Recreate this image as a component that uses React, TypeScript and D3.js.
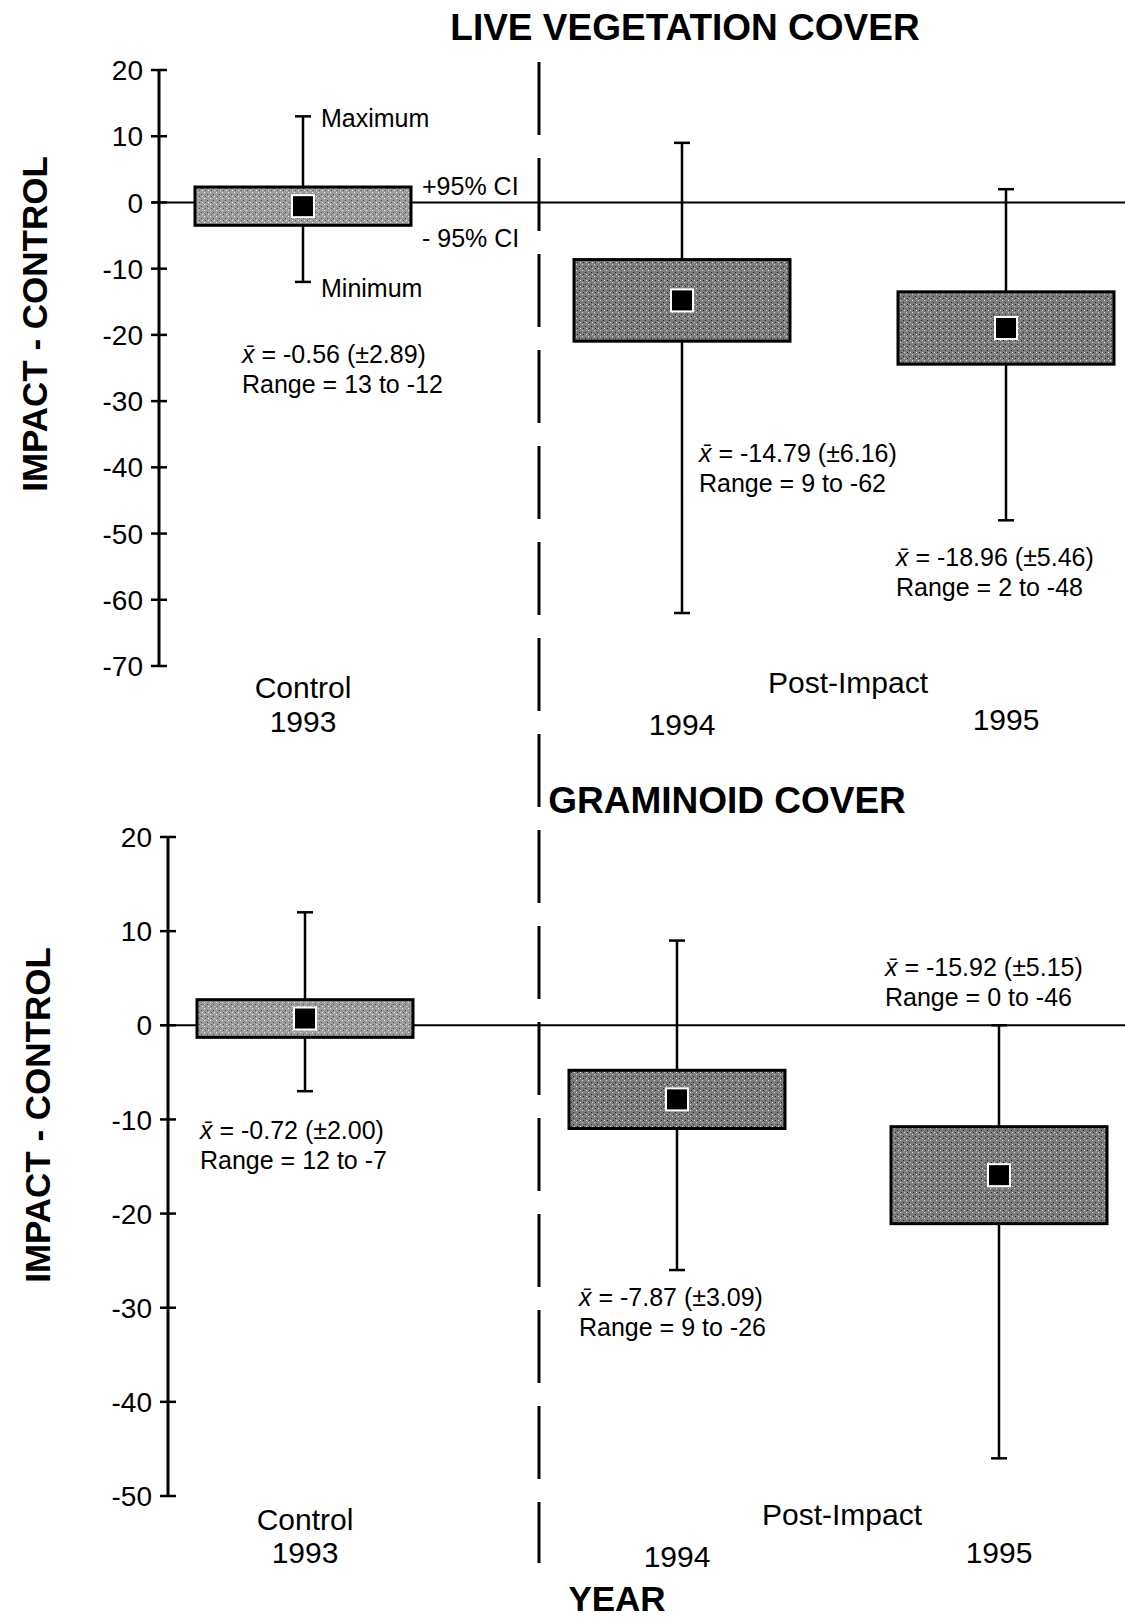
import React from "react";
import * as d3 from "d3";

// values
const categories = ["1993", "1994", "1995"];

const liveMean = [-0.56, -14.79, -18.96];
const liveCI = [2.89, 6.16, 5.46];
const liveMax = [13, 9, 2];
const liveMin = [-12, -62, -48];
const liveMeanText = ["-0.56", "-14.79", "-18.96"];
const liveTicks = [20, 10, 0, -10, -20, -30, -40, -50, -60, -70];

// plotted control mean sits above zero although the printed label says -0.72
const gramMean = [0.72, -7.87, -15.92];
const gramCI = [2.0, 3.09, 5.15];
const gramMax = [12, 9, 0];
const gramMin = [-7, -26, -46];
const gramMeanText = ["-0.72", "-7.87", "-15.92"];
const gramTicks = [20, 10, 0, -10, -20, -30, -40, -50];

const W = 1125;
const H = 1621;
const FONT = "'Liberation Sans', Arial, Helvetica, sans-serif";
const BOX_W = 216;
const CAP_W = 16;

type PanelProps = {
  title: string;
  titleX: number;
  titleY: number;
  axisX: number;
  y: d3.ScaleLinear<number, number>;
  x: d3.ScaleOrdinal<string, number>;
  ticks: number[];
  mean: number[];
  ci: number[];
  max: number[];
  min: number[];
  meanText: string[];
  labelPos: [number, number][];
  yTitleX: number;
  yTitleY: number;
  catY: [number, number];
  postY: number;
  yearY: number[];
  legend?: boolean;
};

const Panel = (p: PanelProps) => {
  const [d0, d1] = p.y.domain();
  return (
    <g>
      <text x={p.titleX} y={p.titleY} textAnchor="middle" fontFamily={FONT}
        fontWeight="bold" fontSize={37}>{p.title}</text>

      {/* y axis */}
      <line x1={p.axisX} x2={p.axisX} y1={p.y(d0)} y2={p.y(d1)} stroke="#000" strokeWidth={3} />
      {p.ticks.map((t) => (
        <g key={t}>
          <line x1={p.axisX - 8} x2={p.axisX + 8} y1={p.y(t)} y2={p.y(t)} stroke="#000" strokeWidth={2.5} />
          <text x={p.axisX - 16} y={p.y(t)} dy="0.36em" textAnchor="end" fontFamily={FONT}
            fontSize={28}>{t}</text>
        </g>
      ))}
      <text transform={`translate(${p.yTitleX},${p.yTitleY}) rotate(-90)`} textAnchor="middle"
        fontFamily={FONT} fontWeight="bold" fontSize={35}>IMPACT - CONTROL</text>

      {/* zero line */}
      <line x1={p.axisX - 8} x2={W} y1={p.y(0)} y2={p.y(0)} stroke="#000" strokeWidth={2} />

      {categories.map((c, i) => {
        const cx = p.x(c);
        const top = p.y(p.mean[i] + p.ci[i]);
        const bot = p.y(p.mean[i] - p.ci[i]);
        const [lx, ly] = p.labelPos[i];
        return (
          <g key={c}>
            <line x1={cx} x2={cx} y1={p.y(p.max[i])} y2={p.y(p.min[i])} stroke="#000" strokeWidth={2.5} />
            <line x1={cx - CAP_W / 2} x2={cx + CAP_W / 2} y1={p.y(p.max[i])} y2={p.y(p.max[i])} stroke="#000" strokeWidth={2.5} />
            <line x1={cx - CAP_W / 2} x2={cx + CAP_W / 2} y1={p.y(p.min[i])} y2={p.y(p.min[i])} stroke="#000" strokeWidth={2.5} />
            <rect x={cx - BOX_W / 2} y={top} width={BOX_W} height={bot - top}
              fill={i === 0 ? "url(#stipLight)" : "url(#stipDark)"} stroke="#000" strokeWidth={3} />
            <rect x={cx - 11} y={p.y(p.mean[i]) - 11} width={22} height={22} fill="#000"
              stroke="#fff" strokeWidth={2} />
            <text x={lx} y={ly} fontFamily={FONT} fontSize={25}>
              <tspan fontStyle="italic">x̄</tspan>
              {` = ${p.meanText[i]} (±${p.ci[i].toFixed(2)})`}
            </text>
            <text x={lx} y={ly + 30} fontFamily={FONT} fontSize={25}>
              {`Range = ${p.max[i]} to ${p.min[i]}`}
            </text>
          </g>
        );
      })}

      {p.legend && (
        <g fontFamily={FONT} fontSize={25}>
          <text x={p.x(categories[0]) + 18} y={p.y(p.max[0]) + 11}>Maximum</text>
          <text x={p.x(categories[0]) + 18} y={p.y(p.min[0]) + 15}>Minimum</text>
          <text x={p.x(categories[0]) + BOX_W / 2 + 11} y={p.y(p.mean[0] + p.ci[0]) + 8}>+95% CI</text>
          <text x={p.x(categories[0]) + BOX_W / 2 + 11} y={p.y(p.mean[0] - p.ci[0]) + 22}>- 95% CI</text>
        </g>
      )}

      {/* category labels */}
      <g fontFamily={FONT} fontSize={30} textAnchor="middle">
        <text x={p.x(categories[0])} y={p.catY[0]}>Control</text>
        <text x={p.x(categories[0])} y={p.catY[1]}>{categories[0]}</text>
        <text x={(p.x(categories[1]) + p.x(categories[2])) / 2 + 4} y={p.postY}>Post-Impact</text>
        <text x={p.x(categories[1])} y={p.yearY[0]}>{categories[1]}</text>
        <text x={p.x(categories[2])} y={p.yearY[1]}>{categories[2]}</text>
      </g>
    </g>
  );
};

export default function App() {
  const yTop = d3.scaleLinear().domain([20, -70]).range([70, 666]);
  const yBot = d3.scaleLinear().domain([20, -50]).range([837, 1496]);
  const xTop = d3.scaleOrdinal<string, number>().domain(categories).range([303, 682, 1006]);
  const xBot = d3.scaleOrdinal<string, number>().domain(categories).range([305, 677, 999]);

  return (
    <svg width={W} height={H} style={{ position: "absolute", left: 0, top: 0, background: "#fff" }}>
      <defs>
        <pattern id="stipLight" width={6} height={6} patternUnits="userSpaceOnUse">
          <rect width={6} height={6} fill="#9c9c9c" />
          <rect x={0} y={0} width={1} height={1} fill="#eee" />
          <rect x={3} y={2} width={1} height={1} fill="#444" />
          <rect x={4} y={4} width={1} height={1} fill="#eee" />
          <rect x={1} y={4} width={1} height={1} fill="#555" />
        </pattern>
        <pattern id="stipDark" width={6} height={6} patternUnits="userSpaceOnUse">
          <rect width={6} height={6} fill="#7c7c7c" />
          <rect x={0} y={0} width={1} height={1} fill="#ddd" />
          <rect x={3} y={2} width={1} height={1} fill="#222" />
          <rect x={4} y={4} width={1} height={1} fill="#ddd" />
          <rect x={1} y={4} width={1} height={1} fill="#222" />
        </pattern>
      </defs>
      <rect width={W} height={H} fill="#fff" />

      <Panel title="LIVE VEGETATION COVER" titleX={685} titleY={40} axisX={159}
        y={yTop} x={xTop} ticks={liveTicks}
        mean={liveMean} ci={liveCI} max={liveMax} min={liveMin} meanText={liveMeanText}
        labelPos={[[242, 363], [699, 462], [896, 566]]}
        yTitleX={47} yTitleY={324} catY={[698, 732]} postY={693} yearY={[735, 730]} legend />

      <Panel title="GRAMINOID COVER" titleX={727} titleY={813} axisX={168}
        y={yBot} x={xBot} ticks={gramTicks}
        mean={gramMean} ci={gramCI} max={gramMax} min={gramMin} meanText={gramMeanText}
        labelPos={[[200, 1139], [579, 1306], [885, 976]]}
        yTitleX={50} yTitleY={1115} catY={[1530, 1563]} postY={1525} yearY={[1567, 1563]} />

      {/* divider between control and post-impact years */}
      <line x1={539} x2={539} y1={62} y2={1563} stroke="#000" strokeWidth={3} strokeDasharray="73 23" />

      <text x={617} y={1611} textAnchor="middle" fontFamily={FONT} fontWeight="bold" fontSize={35}>YEAR</text>
    </svg>
  );
}
